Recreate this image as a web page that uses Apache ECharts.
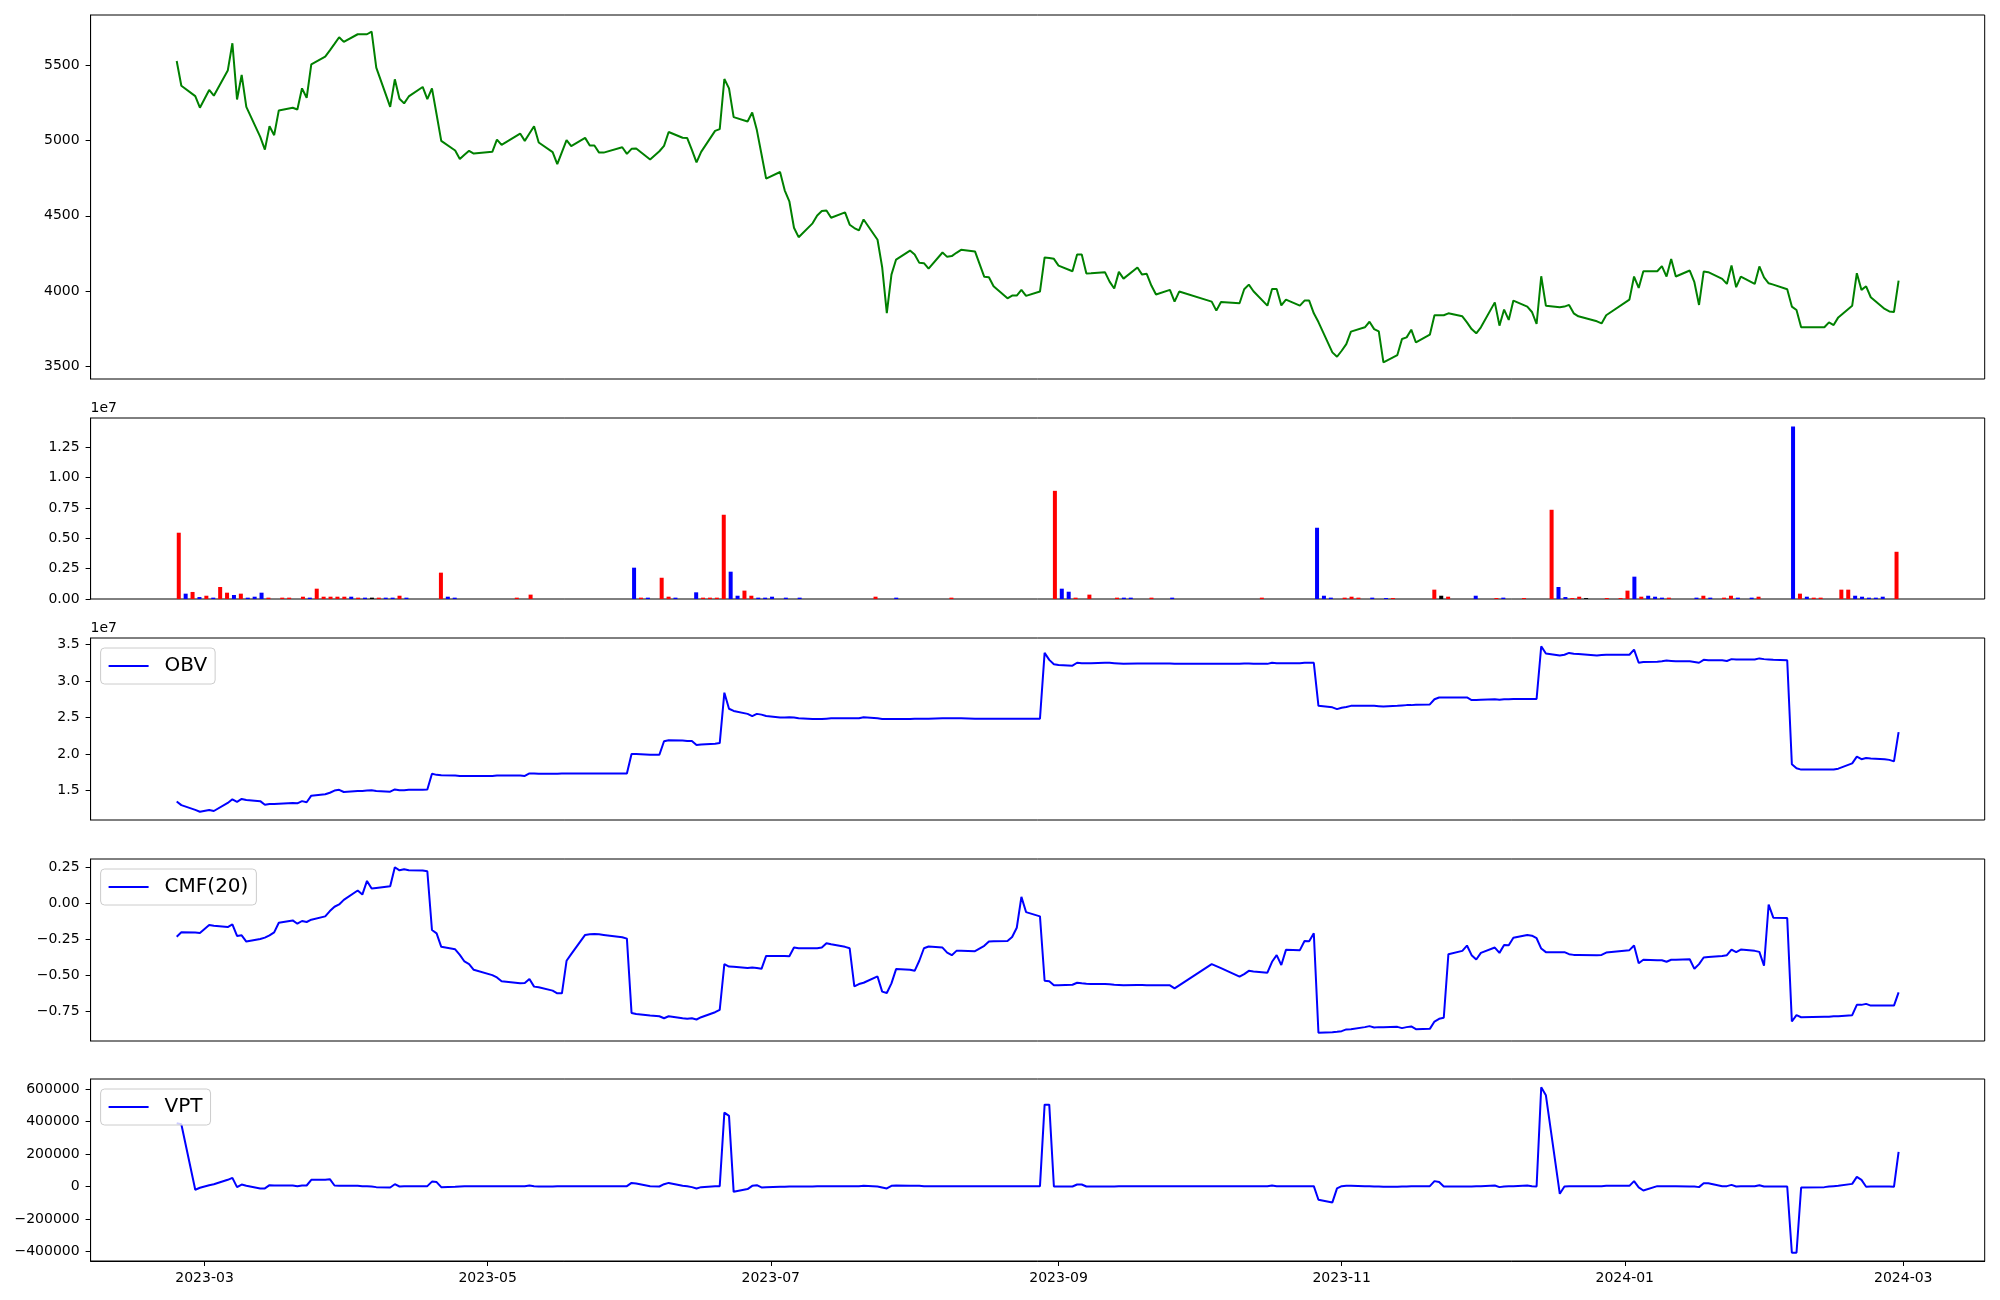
<!DOCTYPE html>
<html><head><meta charset="utf-8">
<script src="https://cdn.jsdelivr.net/npm/echarts@6/dist/echarts.min.js"></script>
<style>html,body{margin:0;padding:0;background:#fff}#c{width:2000px;height:1300px}</style>
</head><body><div id="c"></div>
<script>
// ---------------- DATA ----------------
const dates = [
'2023-02-23','2023-02-24','2023-02-27','2023-02-28',
'2023-03-02','2023-03-03','2023-03-06','2023-03-07','2023-03-08','2023-03-09','2023-03-10','2023-03-13','2023-03-14','2023-03-15','2023-03-16','2023-03-17','2023-03-20','2023-03-21','2023-03-22','2023-03-23','2023-03-24','2023-03-27','2023-03-28','2023-03-29','2023-03-30','2023-03-31',
'2023-04-03','2023-04-04','2023-04-05','2023-04-06','2023-04-07','2023-04-10','2023-04-11','2023-04-12','2023-04-13','2023-04-14','2023-04-17','2023-04-18','2023-04-19','2023-04-20','2023-04-21','2023-04-24','2023-04-25','2023-04-26','2023-04-27','2023-04-28',
'2023-05-02','2023-05-03','2023-05-04','2023-05-08','2023-05-09','2023-05-10','2023-05-11','2023-05-12','2023-05-15','2023-05-16','2023-05-17','2023-05-18','2023-05-19','2023-05-22','2023-05-23','2023-05-24','2023-05-25','2023-05-26','2023-05-30','2023-05-31',
'2023-06-01','2023-06-02','2023-06-05','2023-06-07','2023-06-08','2023-06-09','2023-06-12','2023-06-13','2023-06-14','2023-06-15','2023-06-16','2023-06-19','2023-06-20','2023-06-21','2023-06-22','2023-06-23','2023-06-26','2023-06-27','2023-06-28','2023-06-29','2023-06-30',
'2023-07-03','2023-07-04','2023-07-05','2023-07-06','2023-07-07','2023-07-10','2023-07-11','2023-07-12','2023-07-13','2023-07-14','2023-07-17','2023-07-18','2023-07-19','2023-07-20','2023-07-21','2023-07-24','2023-07-25','2023-07-26','2023-07-27','2023-07-28','2023-07-31',
'2023-08-01','2023-08-02','2023-08-03','2023-08-04','2023-08-07','2023-08-08','2023-08-09','2023-08-10','2023-08-11','2023-08-14','2023-08-16','2023-08-17','2023-08-18','2023-08-21','2023-08-22','2023-08-23','2023-08-24','2023-08-25','2023-08-28','2023-08-29','2023-08-30','2023-08-31',
'2023-09-01','2023-09-04','2023-09-05','2023-09-06','2023-09-07','2023-09-08','2023-09-11','2023-09-12','2023-09-13','2023-09-14','2023-09-15','2023-09-18','2023-09-19','2023-09-20','2023-09-21','2023-09-22','2023-09-25','2023-09-26','2023-09-27',
'2023-10-04','2023-10-05','2023-10-06','2023-10-10','2023-10-11','2023-10-12','2023-10-13','2023-10-16','2023-10-17','2023-10-18','2023-10-19','2023-10-20','2023-10-23','2023-10-24','2023-10-25','2023-10-26','2023-10-27','2023-10-30','2023-10-31',
'2023-11-01','2023-11-02','2023-11-03','2023-11-06','2023-11-07','2023-11-08','2023-11-09','2023-11-10','2023-11-13','2023-11-14','2023-11-15','2023-11-16','2023-11-17','2023-11-20','2023-11-21','2023-11-22','2023-11-23','2023-11-24','2023-11-27','2023-11-28','2023-11-29','2023-11-30',
'2023-12-01','2023-12-04','2023-12-05','2023-12-06','2023-12-07','2023-12-08','2023-12-11','2023-12-12','2023-12-13','2023-12-14','2023-12-15','2023-12-18','2023-12-19','2023-12-20','2023-12-21','2023-12-22','2023-12-26','2023-12-27','2023-12-28',
'2024-01-02','2024-01-03','2024-01-04','2024-01-05','2024-01-08','2024-01-09','2024-01-10','2024-01-11','2024-01-12','2024-01-15','2024-01-16','2024-01-17','2024-01-18','2024-01-19','2024-01-22','2024-01-23','2024-01-24','2024-01-25','2024-01-26','2024-01-29','2024-01-30','2024-01-31',
'2024-02-01','2024-02-02','2024-02-05','2024-02-06','2024-02-07','2024-02-08','2024-02-13','2024-02-14','2024-02-15','2024-02-16','2024-02-19','2024-02-20','2024-02-21','2024-02-22','2024-02-23','2024-02-26','2024-02-27','2024-02-28','2024-02-29'
];

const price = [
5531,5366,5297,5220,5338,5300,5467,5649,5275,5438,
5226,5026,4941,5097,5037,5202,5220,5208,5349,5286,
5509,5560,5602,5645,5689,5658,5709,5709,5709,5727,
5487,5226,5409,5280,5249,5295,5358,5277,5349,5175,
4999,4935,4879,4906,4933,4915,4926,5008,4973,5048,
4999,5048,5097,4988,4924,4844,4924,5004,4964,5019,
4968,4968,4921,4921,4957,4913,4946,4948,4875,4930,
4966,5058,5020,5018,4939,4856,4926,5066,5077,5411,
5349,5157,5128,5188,5071,4910,4748,4792,4670,4597,
4421,4358,4450,4503,4532,4536,4487,4523,4441,4419,
4403,4476,4341,4158,3853,4109,4209,4269,4243,4187,
4185,4149,4256,4227,4232,4254,4274,4263,4094,4091,
4031,3951,3969,3969,4007,3967,3996,4223,4220,4214,
4169,4131,4243,4243,4116,4118,4125,4062,4016,4127,
4082,4156,4109,4114,4036,3976,4007,3929,3996,3929,
3869,3927,3918,4011,4042,3998,3902,4013,4013,3904,
3942,3902,3936,3936,3851,3793,3591,3562,3602,3646,
3729,3758,3795,3746,3731,3524,3573,3680,3691,3742,
3657,3709,3838,3838,3838,3851,3831,3791,3746,3718,
3758,3924,3769,3876,3807,3936,3896,3860,3780,4098,
3902,3891,3896,3907,3851,3831,3798,3784,3838,3942,
4096,4020,4131,4131,4165,4096,4212,4096,4136,4058,
3907,4129,4125,4080,4047,4169,4025,4096,4047,4163,
4091,4051,4042,4011,3896,3873,3758,3758,3791,3773,
3824,3902,4118,4007,4031,3958,3880,3864,3860,4069
];

// volume in millions of shares
const volumeM = [
5.46,0.44,0.58,0.16,0.27,0.11,0.99,0.52,0.33,0.44,
0.11,0.19,0.52,0.11,0,0.11,0.11,0,0.19,0.11,
0.85,0.19,0.19,0.19,0.19,0.19,0.11,0.11,0.11,0.11,
0.11,0.11,0.27,0.11,0,0,0,0,2.17,0.19,
0.11,0,0,0,0,0,0,0,0,0.11,
0,0.36,0,0,0,0,0,0,0,0,
0,0,0,0,0,0,2.58,0.11,0.11,0,
1.75,0.19,0.11,0,0,0.55,0.11,0.11,0.11,6.94,
2.25,0.27,0.69,0.27,0.11,0.11,0.19,0,0.11,0,
0.11,0,0,0,0,0,0,0,0,0,
0,0.19,0,0,0.11,0,0,0,0,0,
0,0,0.11,0,0,0,0,0,0,0,
0,0,0,0,0,0,0,8.91,0.85,0.60,
0.11,0,0.36,0,0,0,0.11,0.11,0.11,0,
0,0.11,0,0,0.11,0,0,0,0,0,
0,0,0,0,0,0,0,0.11,0,0,
0,0,0,0,0,5.87,0.27,0.11,0,0.11,
0.19,0.11,0,0.11,0,0.08,0.08,0,0,0,
0,0,0.77,0.27,0.19,0,0,0,0.27,0,
0,0.08,0.11,0,0,0.08,0,0,0,7.35,
0.99,0.16,0.08,0.19,0.08,0,0,0.08,0,0.08,
0.69,1.84,0.19,0.27,0.19,0.11,0.11,0,0,0,
0.11,0.27,0.11,0,0.11,0.27,0.11,0,0.11,0.19,
0,0,0,0,14.2,0.44,0.19,0.11,0.11,0,
0,0.77,0.77,0.27,0.19,0.11,0.11,0.19,0,3.89
];

// bar direction: 1 = red, -1 = blue, 0 = black
const volDir = [
1,-1,1,-1,1,-1,1,1,-1,1,
-1,-1,-1,1,1,1,1,1,1,-1,
1,1,1,1,1,-1,1,-1,0,1,
-1,-1,1,-1,1,1,1,1,1,-1,
-1,1,1,1,1,1,1,1,1,1,
1,1,1,1,1,1,1,1,1,1,
1,1,1,1,1,1,-1,1,-1,1,
1,1,-1,1,1,-1,1,1,1,1,
-1,-1,1,1,-1,-1,-1,1,-1,1,
-1,1,1,1,1,1,1,1,1,1,
1,1,1,1,-1,1,1,1,1,1,
1,1,1,1,1,1,1,1,1,1,
1,1,1,1,1,1,1,1,-1,-1,
1,1,1,1,1,1,1,-1,-1,1,
1,1,1,1,-1,1,1,1,1,1,
1,1,1,1,1,1,1,1,1,1,
1,1,1,1,1,-1,-1,-1,1,1,
1,1,1,-1,1,-1,1,1,1,1,
1,1,1,0,1,1,1,1,-1,1,
1,1,-1,1,1,1,1,1,1,1,
-1,-1,1,1,0,1,1,1,1,1,
1,-1,1,-1,-1,-1,1,1,1,1,
-1,1,-1,1,1,1,-1,1,-1,1,
1,1,1,1,-1,1,-1,1,1,1,
1,1,1,-1,-1,-1,-1,-1,1,1
];

// OBV in units of 1e7
const obv1e7 = [
1.35,1.30,1.235,1.21,1.235,1.22,1.33,1.38,1.345,1.385,
1.37,1.355,1.305,1.315,1.315,1.32,1.33,1.325,1.355,1.34,
1.43,1.45,1.47,1.50,1.51,1.48,1.495,1.495,1.50,1.505,
1.495,1.485,1.515,1.505,1.505,1.51,1.51,1.515,1.73,1.715,
1.71,1.705,1.70,1.70,1.70,1.70,1.70,1.705,1.705,1.705,
1.70,1.735,1.735,1.73,1.73,1.73,1.735,1.735,1.735,1.735,
1.735,1.735,1.735,1.735,1.735,1.735,2.00,2.00,1.99,1.99,
2.175,2.19,2.185,2.18,2.18,2.125,2.13,2.14,2.15,2.84,
2.62,2.59,2.55,2.52,2.55,2.54,2.52,2.50,2.50,2.505,
2.50,2.49,2.48,2.48,2.48,2.485,2.49,2.49,2.49,2.49,
2.49,2.505,2.49,2.48,2.48,2.48,2.48,2.48,2.485,2.485,
2.485,2.485,2.49,2.49,2.49,2.49,2.49,2.485,2.485,2.485,
2.485,2.485,2.485,2.485,2.485,2.485,2.485,3.385,3.29,3.23,
3.22,3.21,3.25,3.245,3.245,3.245,3.25,3.25,3.245,3.24,
3.235,3.24,3.24,3.24,3.24,3.24,3.24,3.235,3.235,3.235,
3.235,3.235,3.235,3.24,3.24,3.235,3.235,3.25,3.245,3.245,
3.245,3.245,3.25,3.25,3.25,2.66,2.64,2.615,2.635,2.645,
2.66,2.66,2.66,2.66,2.655,2.65,2.66,2.665,2.67,2.67,
2.675,2.68,2.75,2.775,2.775,2.775,2.775,2.775,2.74,2.74,
2.745,2.75,2.745,2.75,2.75,2.755,2.755,2.755,2.755,3.476,
3.376,3.35,3.36,3.385,3.375,3.37,3.35,3.355,3.36,3.36,
3.43,3.25,3.26,3.265,3.27,3.28,3.275,3.27,3.27,3.26,
3.25,3.29,3.285,3.285,3.275,3.30,3.295,3.295,3.295,3.31,
3.30,3.295,3.29,3.285,1.86,1.805,1.787,1.787,1.787,1.787,
1.80,1.873,1.965,1.93,1.945,1.94,1.93,1.92,1.90,2.30
];

const cmf20 = [
-0.231,-0.201,-0.203,-0.205,-0.150,-0.155,-0.164,-0.145,-0.226,-0.222,
-0.265,-0.247,-0.238,-0.222,-0.201,-0.134,-0.118,-0.141,-0.122,-0.129,
-0.113,-0.090,-0.053,-0.023,-0.007,0.025,0.090,0.062,0.157,0.104,
0.108,0.120,0.252,0.231,0.238,0.231,0.229,0.224,-0.185,-0.208,
-0.302,-0.319,-0.358,-0.404,-0.422,-0.462,-0.499,-0.515,-0.542,-0.556,
-0.554,-0.526,-0.579,-0.584,-0.607,-0.626,-0.626,-0.399,-0.353,-0.219,
-0.215,-0.212,-0.215,-0.219,-0.235,-0.245,-0.762,-0.769,-0.780,-0.785,
-0.799,-0.785,-0.799,-0.803,-0.799,-0.808,-0.792,-0.757,-0.741,-0.422,
-0.439,-0.441,-0.450,-0.446,-0.450,-0.455,-0.365,-0.365,-0.365,-0.367,
-0.307,-0.312,-0.312,-0.312,-0.307,-0.277,-0.284,-0.302,-0.312,-0.577,
-0.561,-0.552,-0.508,-0.614,-0.623,-0.556,-0.457,-0.462,-0.469,-0.399,
-0.312,-0.300,-0.307,-0.342,-0.360,-0.330,-0.330,-0.332,-0.295,-0.265,
-0.263,-0.261,-0.233,-0.169,0.046,-0.060,-0.090,-0.538,-0.542,-0.570,
-0.570,-0.566,-0.552,-0.556,-0.559,-0.561,-0.561,-0.563,-0.566,-0.568,
-0.570,-0.568,-0.568,-0.570,-0.570,-0.570,-0.570,-0.591,-0.570,-0.422,
-0.436,-0.450,-0.510,-0.492,-0.469,-0.473,-0.482,-0.406,-0.360,-0.429,
-0.323,-0.325,-0.261,-0.263,-0.208,-0.900,-0.896,-0.893,-0.889,-0.877,
-0.875,-0.861,-0.854,-0.863,-0.861,-0.861,-0.859,-0.868,-0.861,-0.856,
-0.875,-0.873,-0.822,-0.803,-0.796,-0.353,-0.330,-0.293,-0.360,-0.390,
-0.344,-0.307,-0.344,-0.289,-0.291,-0.238,-0.219,-0.224,-0.242,-0.314,
-0.339,-0.339,-0.339,-0.353,-0.358,-0.358,-0.360,-0.358,-0.342,-0.325,
-0.293,-0.416,-0.392,-0.395,-0.395,-0.406,-0.392,-0.392,-0.388,-0.455,
-0.422,-0.376,-0.372,-0.365,-0.360,-0.321,-0.339,-0.321,-0.330,-0.337,
-0.434,-0.007,-0.099,-0.102,-0.822,-0.778,-0.792,-0.789,-0.789,-0.785,
-0.785,-0.778,-0.706,-0.706,-0.699,-0.711,-0.711,-0.711,-0.711,-0.619
];

const vpt = [
390000,383000,-20000,-8000,8000,14000,41000,53000,-4000,12000,
4000,-12000,-12000,8000,6000,6000,6000,2000,6000,6000,
41000,41000,45000,6000,4000,4000,4000,2000,2000,0,
-4000,-6000,14000,0,2000,2000,2000,2000,30000,27000,
-4000,-2000,0,2000,2000,2000,2000,2000,2000,2000,
2000,6000,2000,0,0,2000,2000,2000,2000,2000,
2000,2000,2000,2000,2000,2000,22000,18000,2000,0,
14000,22000,4000,2000,-4000,-12000,-4000,2000,2000,455000,
435000,-33000,-16000,4000,8000,-6000,-4000,-2000,-2000,0,
0,0,0,2000,2000,2000,2000,2000,2000,2000,
2000,4000,0,-6000,-12000,4000,6000,4000,4000,4000,
2000,2000,2000,2000,2000,2000,2000,2000,2000,2000,
2000,2000,2000,2000,2000,2000,2000,504000,504000,0,
0,0,12000,12000,0,0,0,0,0,2000,
2000,2000,2000,2000,2000,2000,2000,2000,2000,2000,
2000,2000,2000,2000,2000,2000,2000,6000,2000,2000,
2000,2000,2000,2000,2000,-82000,-98000,-12000,2000,4000,
4000,2000,2000,0,0,-2000,-2000,0,0,2000,
2000,2000,33000,28000,0,0,0,0,0,2000,
2000,6000,-4000,0,2000,2000,6000,2000,0,611000,
562000,-45000,0,2000,2000,2000,2000,2000,4000,4000,
33000,-6000,-25000,2000,2000,2000,2000,2000,0,0,
-4000,20000,20000,2000,2000,10000,0,2000,2000,8000,
0,0,0,0,-408000,-408000,-6000,-4000,0,2000,
4000,16000,59000,41000,-2000,0,0,0,-2000,213000
];

const priceTicks = [3500, 4000, 4500, 5000, 5500];
const volTicks = [0, 2.5e6, 5e6, 7.5e6, 1e7, 1.25e7];
const obvTicks = [1.5e7, 2e7, 2.5e7, 3e7, 3.5e7];
const cmfTicks = [-0.75, -0.5, -0.25, 0, 0.25];
const vptTicks = [-400000, -200000, 0, 200000, 400000, 600000];
const xTickDates = ['2023-03-01','2023-05-01','2023-07-01','2023-09-01','2023-11-01','2024-01-01','2024-03-01'];

// ---------------- BUILD ----------------
const FONT = 'DejaVu Sans';
const ts = s => { const p = s.split('-').map(Number); return Date.UTC(p[0], p[1]-1, p[2]); };
const X = dates.map(ts);
const N = dates.length;
const tPad = 0.05 * (X[N-1] - X[0]);
const tMin = X[0] - tPad, tMax = X[N-1] + tPad;
const BW = 0.6;
const bLo = -BW/2, bHi = N - 1 + BW/2, bPad = 0.05 * (bHi - bLo);
const volume = volumeM.map(v => v * 1e6);
const obv = obv1e7.map(v => v * 1e7);
function auto(a){ const lo = Math.min(...a), hi = Math.max(...a), p = 0.05*(hi-lo); return [lo-p, hi+p]; }
const minus = s => String(s).replace('-', '\u2212');

const GL = 90.6, GW = 1894.1;
const panels = [{top:15,h:364},{top:418,h:181},{top:638,h:182},{top:859,h:182},{top:1079,h:182}];
const grid = panels.map(p => ({left: GL, top: p.top, width: GW, height: p.h, show: true,
  borderColor: '#000', borderWidth: 1, backgroundColor: 'transparent', containLabel: false}));

function yAx(gi, range, ticks, fmt, name){
  return { type:'value', gridIndex: gi, position:'left', min: range[0], max: range[1], scale: true,
    axisLine:{show:true, onZero:false, lineStyle:{color:'#000', width:1}},
    axisTick:{show:true, length:5, inside:false, customValues: ticks, lineStyle:{color:'#000', width:1}},
    axisLabel:{show:true, customValues: ticks, formatter: fmt, color:'#000', fontSize:14, fontFamily: FONT, margin: 11},
    splitLine:{show:false},
    name: name || '', nameLocation:'end', nameGap: 3,
    nameTextStyle:{align:'left', verticalAlign:'bottom', color:'#000', fontSize:14, fontFamily: FONT}
  };
}
const xTicks = xTickDates.map(ts);
function xDate(gi, show){
  return { type:'value', gridIndex: gi, position:'bottom', min: tMin, max: tMax, scale: true,
    axisLine:{show: show, onZero:false, lineStyle:{color:'#000', width:1}}, splitLine:{show:false},
    axisTick:{show: show, length:5, customValues: xTicks, lineStyle:{color:'#000', width:1}},
    axisLabel:{show: show, customValues: xTicks, color:'#000', fontSize:14, fontFamily: FONT, margin: 10,
      formatter: v => { const d = new Date(v); return d.getUTCFullYear() + '-' + String(d.getUTCMonth()+1).padStart(2,'0'); }}
  };
}
const xAxis = [
  xDate(0, false),
  { type:'value', gridIndex:1, position:'bottom', min: bLo - bPad, max: bHi + bPad, scale: true,
    axisLine:{show:false, onZero:false}, axisTick:{show:false}, axisLabel:{show:false}, splitLine:{show:false} },
  xDate(2, false), xDate(3, false), xDate(4, true)
];
const yAxis = [
  yAx(0, auto(price), priceTicks, v => String(v)),
  yAx(1, [0, 1.05*Math.max(...volume)], volTicks, v => (v/1e7).toFixed(2), '1e7'),
  yAx(2, auto(obv), obvTicks, v => (v/1e7).toFixed(1), '1e7'),
  yAx(3, auto(cmf20), cmfTicks, v => minus(v.toFixed(2))),
  yAx(4, auto(vpt), vptTicks, v => minus(Math.round(v)))
];
const dirColor = {'1':'#ff0000', '-1':'#0000ff', '0':'#000000'};
function lineSeries(name, xi, vals, color){
  return { name, type:'line', xAxisIndex: xi, yAxisIndex: xi, data: vals.map((v,i) => [X[i], v]),
    symbol:'none', showSymbol:false, color, itemStyle:{color}, lineStyle:{color, width:2}, silent:true, animation:false };
}
function legend(name, gi){
  return { data:[{name, icon:'rect'}], left: GL + 10, top: panels[gi].top + 10, orient:'vertical',
    itemWidth:40, itemHeight:2, padding:[8,8,8,8], borderColor:'#cccccc', borderWidth:1, borderRadius:4,
    backgroundColor:'rgba(255,255,255,0.8)', selectedMode:false,
    textStyle:{fontSize:20, fontFamily: FONT, color:'#000', padding:[0,0,0,11]} };
}
const option = {
  animation: false,
  backgroundColor: '#ffffff',
  grid, xAxis, yAxis,
  legend: [legend('OBV', 2), legend('CMF(20)', 3), legend('VPT', 4)],
  series: [
    lineSeries('Close', 0, price, '#008000'),
    { name:'Volume', type:'bar', xAxisIndex:1, yAxisIndex:1, barWidth:4, silent:true, animation:false,
      data: volume.map((v,i) => ({ value:[i, v], itemStyle:{ color: dirColor[String(volDir[i])] } })) },
    lineSeries('OBV', 2, obv, '#0000ff'),
    lineSeries('CMF(20)', 3, cmf20, '#0000ff'),
    lineSeries('VPT', 4, vpt, '#0000ff')
  ]
};
const chart = echarts.init(document.getElementById('c'), null, {renderer:'canvas', width:2000, height:1300});
chart.setOption(option);
</script>
</body></html>
